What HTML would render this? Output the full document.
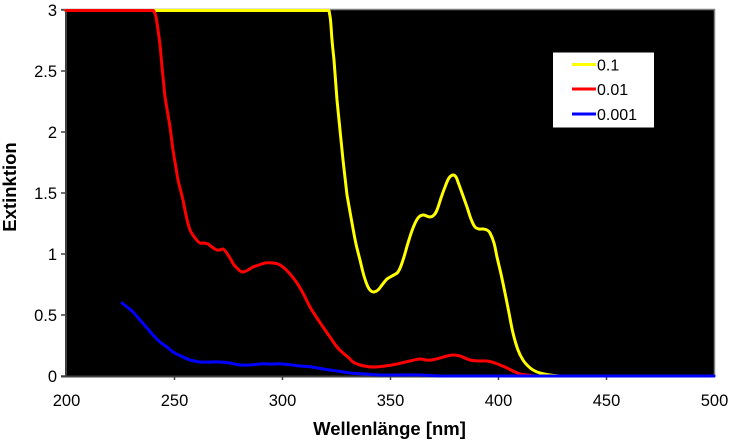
<!DOCTYPE html>
<html><head><meta charset="utf-8"><style>
html,body{margin:0;padding:0;background:#fff;}
svg{display:block;}
text{font-family:"Liberation Sans",Arial,sans-serif;fill:#000;}
</style></head><body>
<svg id="chart" width="732" height="444" viewBox="0 0 732 444" xmlns="http://www.w3.org/2000/svg">
<rect x="0" y="0" width="732" height="444" fill="#fff"/>
<rect x="66.5" y="9.5" width="648" height="366.5" fill="#000"/>
<!-- borders -->
<line x1="61" y1="9.5" x2="715" y2="9.5" stroke="#808080" stroke-width="1.5"/>
<line x1="714.5" y1="9" x2="714.5" y2="377" stroke="#808080" stroke-width="1.5"/>
<line x1="66" y1="9" x2="66" y2="377" stroke="#404040" stroke-width="2"/>
<line x1="61" y1="376.5" x2="715" y2="376.5" stroke="#404040" stroke-width="2"/>
<!-- ticks -->
<g stroke="#404040" stroke-width="1.5">
<line x1="61" y1="10" x2="66" y2="10"/>
<line x1="61" y1="71" x2="66" y2="71"/>
<line x1="61" y1="132" x2="66" y2="132"/>
<line x1="61" y1="193" x2="66" y2="193"/>
<line x1="61" y1="254" x2="66" y2="254"/>
<line x1="61" y1="315" x2="66" y2="315"/>
<line x1="61" y1="376" x2="66" y2="376"/>
<line x1="174.5" y1="376" x2="174.5" y2="380"/>
<line x1="282.5" y1="376" x2="282.5" y2="380"/>
<line x1="390.5" y1="376" x2="390.5" y2="380"/>
<line x1="498.5" y1="376" x2="498.5" y2="380"/>
<line x1="606.5" y1="376" x2="606.5" y2="380"/>
</g>
<g font-size="16.5" text-anchor="end">
<text x="57" y="16">3</text>
<text x="57" y="77">2.5</text>
<text x="57" y="138">2</text>
<text x="57" y="199">1.5</text>
<text x="57" y="260">1</text>
<text x="57" y="321">0.5</text>
<text x="57" y="382">0</text>
</g>
<g font-size="16.5" text-anchor="middle">
<text x="66.5" y="406">200</text>
<text x="174.5" y="406">250</text>
<text x="282.5" y="406">300</text>
<text x="390.5" y="406">350</text>
<text x="498.5" y="406">400</text>
<text x="606.5" y="406">450</text>
<text x="714.5" y="406">500</text>
</g>
<text x="389.5" y="435" font-size="18.5" font-weight="bold" text-anchor="middle">Wellenlänge [nm]</text>
<text transform="translate(16,187) rotate(-90)" x="0" y="0" font-size="18.5" font-weight="bold" text-anchor="middle">Extinktion</text>
<!-- series -->
<g id="series" fill="none" stroke-width="3" stroke-linejoin="round" stroke-linecap="round">
<polyline stroke="#ffff00" points="66,10.5 329,10.5 330.5,20 332,40 334,60 337,100 340,130 343,160 347,195 352,223 356,244 360,260 364,276 368,287 371,291 374,292 378,290 382,285 387,279 392,276 398,272 403,260 408,243 413,228 418,218 423,215 430,217 434,215 437,210 441,198 445,187 449,178 453,175 456,177 458,182 462,193 467,207 471,219 475,227 479,229 483,229 487,230 490,233 494,243 497,257 501,274 505,293 509,313 513,333 518,350 523,360 528,366 533,370 540,373 550,375 560,376 714,376"/>
<polyline stroke="#ff0000" points="66,10.5 153.5,10.5 155.5,15 157,23 160,45 162,67 165,97 168,115 170,127 173,150 176,168 178,180 181,192 183,200 186,215 190,230 195,238 200,243 204,243 208,244 212,247 217,250 220,250 223,249 226,252 230,258 234,265 237,268 240,271 243,272 248,270 253,267 259,265 265,263 273,263 278,264 283,267 290,274 297,283 304,295 310,307 317,318 323,327 330,337 337,347 343,353 349,358 353,362 360,365 372,367 385,366 397,364 410,361 420,359 426,360 432,360 440,358 447,356 453,355 460,356 470,360 480,361 487,361 495,363 500,365 507,368 513,371 520,374 527,375 535,376 714,376"/>
<polyline stroke="#0000ff" points="122,303 127,307 133,312 140,320 147,328 153,335 160,342 167,347 173,352 183,357 190,360 200,362 210,362 220,362 230,363 240,365 250,365 260,364 270,364 283,364 292,365 300,366 312,367 323,369 337,371 350,373 365,374 380,375 400,375 420,375 440,376 714,376"/>
</g>
<!-- legend -->
<rect x="553" y="52.5" width="101" height="75" fill="#fff"/>
<g stroke-width="3">
<line x1="572" y1="64.5" x2="596" y2="64.5" stroke="#ffff00"/>
<line x1="572" y1="89" x2="596" y2="89" stroke="#ff0000"/>
<line x1="572" y1="114" x2="596" y2="114" stroke="#0000ff"/>
</g>
<g font-size="16">
<text x="597" y="70.5">0.1</text>
<text x="597" y="95">0.01</text>
<text x="597" y="120">0.001</text>
</g>
</svg>
<script>
(function(){
  try{
    var ns="http://www.w3.org/2000/svg";
    var g=document.getElementById("series");
    var pls=g.getElementsByTagName("polyline");
    var arr=[];for(var i=0;i<pls.length;i++)arr.push(pls[i]);
    var LONG=30;
    function len(a,b){var dx=b[0]-a[0],dy=b[1]-a[1];return Math.sqrt(dx*dx+dy*dy);}
    arr.forEach(function(pl){
      var pts=pl.getAttribute("points").trim().split(/\s+/).map(function(s){var a=s.split(",");return [parseFloat(a[0]),parseFloat(a[1])];});
      var n=pts.length;
      var seg=[];for(var k=0;k<n-1;k++)seg.push(len(pts[k],pts[k+1]));
      var tan=[];
      for(var i=0;i<n;i++){
        var prevOk=i>0&&seg[i-1]<=LONG, nextOk=i<n-1&&seg[i]<=LONG;
        var a,b;
        if(prevOk&&nextOk){a=pts[i-1];b=pts[i+1];}
        else if(nextOk){a=pts[i];b=pts[i+1];}
        else if(prevOk){a=pts[i-1];b=pts[i];}
        else {a=pts[i];b=pts[i];}
        var dx=b[0]-a[0],dy=b[1]-a[1],L=Math.sqrt(dx*dx+dy*dy)||1;
        tan.push([dx/L,dy/L]);
      }
      var d="M"+pts[0][0]+","+pts[0][1];
      for(var k=0;k<n-1;k++){
        var p1=pts[k],p2=pts[k+1];
        if(seg[k]>LONG){d+=" L"+p2[0]+","+p2[1];continue;}
        var h=seg[k]/3;
        var c1x=p1[0]+tan[k][0]*h,c1y=p1[1]+tan[k][1]*h;
        var c2x=p2[0]-tan[k+1][0]*h,c2y=p2[1]-tan[k+1][1]*h;
        d+=" C"+c1x.toFixed(2)+","+c1y.toFixed(2)+" "+c2x.toFixed(2)+","+c2y.toFixed(2)+" "+p2[0]+","+p2[1];
      }
      var p=document.createElementNS(ns,"path");
      p.setAttribute("d",d);
      p.setAttribute("stroke",pl.getAttribute("stroke"));
      g.replaceChild(p,pl);
    });
  }catch(e){}
})();
</script>
</body></html>
